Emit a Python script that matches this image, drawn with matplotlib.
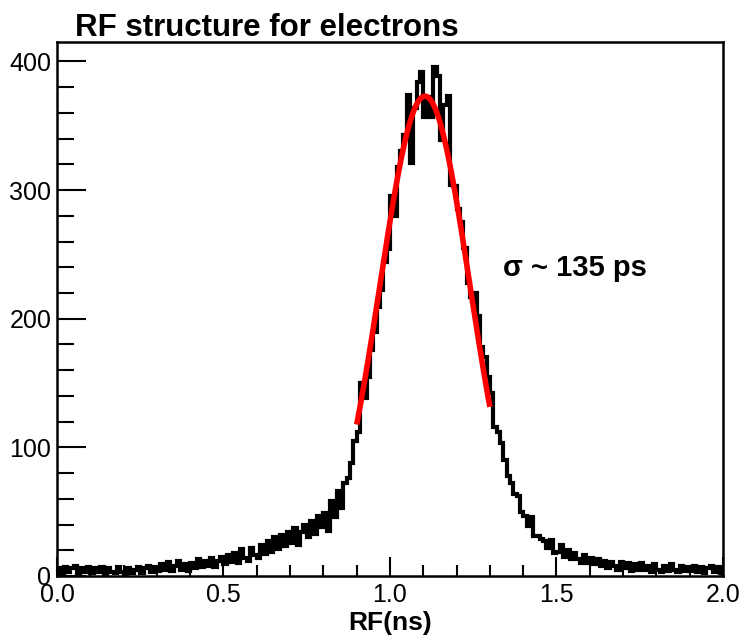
import numpy as np
import matplotlib.pyplot as plt
from matplotlib.ticker import MultipleLocator

# histogram: 200 bins of 0.01 ns between 0 and 2 ns
bin_edges = np.linspace(0.0, 2.0, 201)
counts = [
    6, 2, 7, 3, 6, 8, 2, 6, 3, 7,
    2, 6, 3, 7, 1, 6, 3, 2, 7, 3,
    1, 6, 2, 5, 7, 2, 6, 8, 3, 7,
    4, 9, 5, 11, 4, 8, 12, 5, 9, 4,
    10, 6, 13, 7, 12, 8, 14, 7, 12, 15,
    9, 16, 11, 18, 10, 21, 14, 12, 22, 16,
    14, 24, 17, 27, 19, 30, 21, 32, 23, 34,
    26, 37, 24, 34, 40, 30, 43, 33, 47, 38,
    49, 35, 58, 46, 66, 53, 72, 76, 88, 105,
    112, 150, 138, 155, 176, 190, 209, 222, 244, 254,
    295, 280, 318, 330, 343, 374, 321, 364, 384, 392,
    357, 372, 357, 396, 389, 339, 366, 373, 304, 303,
    285, 275, 255, 228, 217, 220, 202, 178, 170, 155,
    142, 116, 112, 103, 90, 78, 72, 64, 62, 50,
    47, 39, 46, 31, 31, 29, 27, 22, 28, 18,
    19, 24, 15, 20, 13, 18, 13, 10, 16, 10,
    14, 9, 13, 8, 12, 6, 11, 8, 5, 11,
    6, 10, 4, 9, 5, 10, 5, 8, 3, 9,
    5, 3, 8, 4, 9, 5, 3, 8, 4, 7,
    4, 8, 3, 7, 2, 6, 8, 3, 7, 2,
]

# gaussian fit parameters (ns)
fit_amp = 373.0
fit_mean = 1.105
fit_sigma = 0.135
fit_range = (0.9, 1.3)

FONT = ['Liberation Sans', 'DejaVu Sans']
plt.rcParams['font.family'] = FONT

fig = plt.figure(figsize=(7.4, 6.44), dpi=100)
ax = fig.add_axes([0.077, 0.1056, 0.9, 0.829])

ax.stairs(counts, bin_edges, color='black', linewidth=3)

xf = np.linspace(fit_range[0], fit_range[1], 200)
yf = fit_amp * np.exp(-0.5 * ((xf - fit_mean) / fit_sigma) ** 2)
ax.plot(xf, yf, color='#ff0000', linewidth=4, solid_capstyle='butt')

ax.set_xlim(0, 2.0)
ax.set_ylim(0, 415)

ax.xaxis.set_major_locator(MultipleLocator(0.5))
ax.xaxis.set_minor_locator(MultipleLocator(0.1))
ax.yaxis.set_major_locator(MultipleLocator(100))
ax.yaxis.set_minor_locator(MultipleLocator(20))
ax.xaxis.set_major_formatter(lambda v, p: f'{v:.1f}')

ax.tick_params(axis='both', which='both', direction='in', top=False, right=False,
               labelsize=18, width=1.5)
ax.tick_params(axis='y', which='major', length=21, pad=4)
ax.tick_params(axis='y', which='minor', length=12)
ax.tick_params(axis='x', which='major', length=14, pad=5)
ax.tick_params(axis='x', which='minor', length=8)

for sp in ax.spines.values():
    sp.set_linewidth(1.8)

ax.set_xlabel('RF(ns)', fontsize=19, fontweight='bold', labelpad=3)

fig.text(0.101, 0.944, 'RF structure for electrons', fontsize=22.5,
         fontweight='bold', ha='left', va='baseline')

ax.text(1.34, 233, 'σ ~ 135 ps', fontsize=21, fontweight='bold', ha='left', va='baseline')

fig.savefig('out.png', dpi=100)
